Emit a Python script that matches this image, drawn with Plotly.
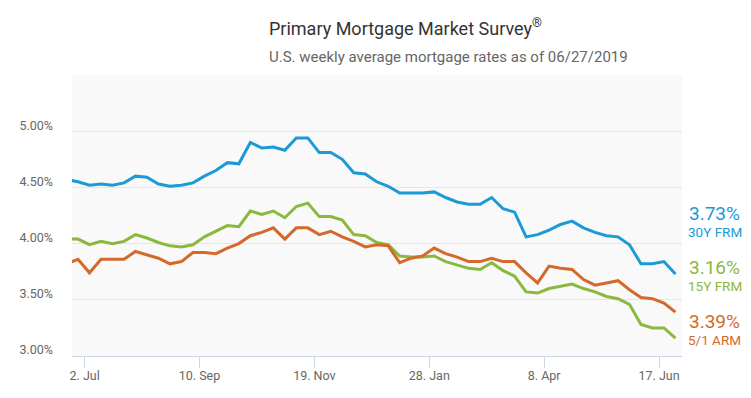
import pandas as pd
import plotly.graph_objects as go

dates = pd.date_range("2018-06-21", "2019-06-27", freq="W-THU")

frm30 = [4.57, 4.55, 4.52, 4.53, 4.52, 4.54, 4.60, 4.59, 4.53, 4.51, 4.52, 4.54, 4.60, 4.65,
         4.72, 4.71, 4.90, 4.85, 4.86, 4.83, 4.94, 4.94, 4.81, 4.81, 4.75, 4.63, 4.62, 4.55,
         4.51, 4.45, 4.45, 4.45, 4.46, 4.41, 4.37, 4.35, 4.35, 4.41, 4.31, 4.28, 4.06, 4.08,
         4.12, 4.17, 4.20, 4.14, 4.10, 4.07, 4.06, 3.99, 3.82, 3.82, 3.84, 3.73]
frm15 = [4.04, 4.04, 3.99, 4.02, 4.00, 4.02, 4.08, 4.05, 4.01, 3.98, 3.97, 3.99, 4.06, 4.11,
         4.16, 4.15, 4.29, 4.26, 4.29, 4.23, 4.33, 4.36, 4.24, 4.24, 4.21, 4.08, 4.07, 4.01,
         3.99, 3.89, 3.88, 3.88, 3.89, 3.84, 3.81, 3.78, 3.77, 3.83, 3.76, 3.71, 3.57, 3.56,
         3.60, 3.62, 3.64, 3.60, 3.57, 3.53, 3.51, 3.46, 3.28, 3.25, 3.25, 3.16]
arm51 = [3.82, 3.86, 3.74, 3.86, 3.86, 3.86, 3.93, 3.90, 3.87, 3.82, 3.84, 3.92, 3.92, 3.91,
         3.96, 4.00, 4.07, 4.10, 4.14, 4.04, 4.14, 4.14, 4.08, 4.11, 4.06, 4.02, 3.97, 3.99,
         3.98, 3.83, 3.87, 3.89, 3.96, 3.91, 3.88, 3.84, 3.84, 3.87, 3.84, 3.84, 3.74, 3.65,
         3.80, 3.78, 3.77, 3.68, 3.63, 3.65, 3.67, 3.59, 3.52, 3.51, 3.47, 3.39]

series_names = ["30Y FRM", "15Y FRM", "5/1 ARM"]
series_colors = ["#1b9ad6", "#8bb83e", "#d4692b"]
latest_values = ["3.73%", "3.16%", "3.39%"]

x_tick_vals = ["2018-07-02", "2018-09-10", "2018-11-19", "2019-01-28", "2019-04-08", "2019-06-17"]
x_tick_text = ["2. Jul", "10. Sep", "19. Nov", "28. Jan", "8. Apr", "17. Jun"]
y_tick_vals = [3.0, 3.5, 4.0, 4.5, 5.0]
y_tick_text = ["3.00%", "3.50%", "4.00%", "4.50%", "5.00%"]

fig = go.Figure()
for vals, name, color in zip([frm30, frm15, arm51], series_names, series_colors):
    fig.add_trace(go.Scatter(x=dates, y=vals, mode="lines", name=name,
                             line=dict(color=color, width=3), hoverinfo="skip"))

# The page body adds an 8px offset, so the figure is 8px smaller than the window.
FONT = "Roboto"
fig.update_layout(
    width=743, height=390,
    margin=dict(l=64, r=69, t=67, b=42),
    paper_bgcolor="white",
    plot_bgcolor="#f9f9f9",
    showlegend=False,
    font=dict(family=FONT, color="#666666", size=12),
)
fig.update_xaxes(
    range=["2018-06-24 08:00", "2019-07-01"],
    tickvals=x_tick_vals, ticktext=x_tick_text,
    showgrid=False, zeroline=False,
    showline=True, linecolor="#ccd6eb", linewidth=1,
    ticks="outside", ticklen=11, tickcolor="#ccd6eb",
    ticklabelstandoff=-3,
    tickfont=dict(family=FONT, size=12.5, color="#666666"),
)
fig.update_yaxes(
    range=[3.0, 5.5],
    tickvals=y_tick_vals, ticktext=y_tick_text,
    showgrid=True, gridcolor="#e6e6e6", gridwidth=1,
    minor=dict(tick0=0, dtick=0.5, showgrid=True, gridcolor="#e6e6e6", ticks=""),
    zeroline=False, showline=False, ticks="",
    ticklabelstandoff=18, ticklabelshift=-6,
    tickfont=dict(family=FONT, size=12.5, color="#666666"),
)

annotations = [
    dict(text="Primary Mortgage Market Survey<sup>®</sup>", xref="paper", yref="paper",
         x=(267 - 72) / 610, y=(356 - 27) / 281, xanchor="left", yanchor="middle",
         showarrow=False, font=dict(family=FONT, size=18, color="#333333")),
    dict(text="U.S. weekly average mortgage rates as of 06/27/2019", xref="paper", yref="paper",
         x=(267 - 72) / 610, y=(356 - 57) / 281, xanchor="left", yanchor="middle",
         showarrow=False, font=dict(family=FONT, size=15, color="#666666")),
]
value_y = [213, 267, 321]
name_y = [232, 286, 340]
for v, n, c, vy, ny in zip(latest_values, series_names, series_colors, value_y, name_y):
    annotations.append(dict(text=v, xref="paper", yref="paper", x=(687 - 72) / 610,
                            y=(356 - vy) / 281, xanchor="left", yanchor="middle",
                            showarrow=False, font=dict(family=FONT, size=19, color=c)))
    annotations.append(dict(text=n, xref="paper", yref="paper", x=(686 - 72) / 610,
                            y=(356 - ny) / 281, xanchor="left", yanchor="middle",
                            showarrow=False, font=dict(family=FONT, size=13.5, color=c)))
fig.update_layout(annotations=annotations)

fig.write_html("out.html")
